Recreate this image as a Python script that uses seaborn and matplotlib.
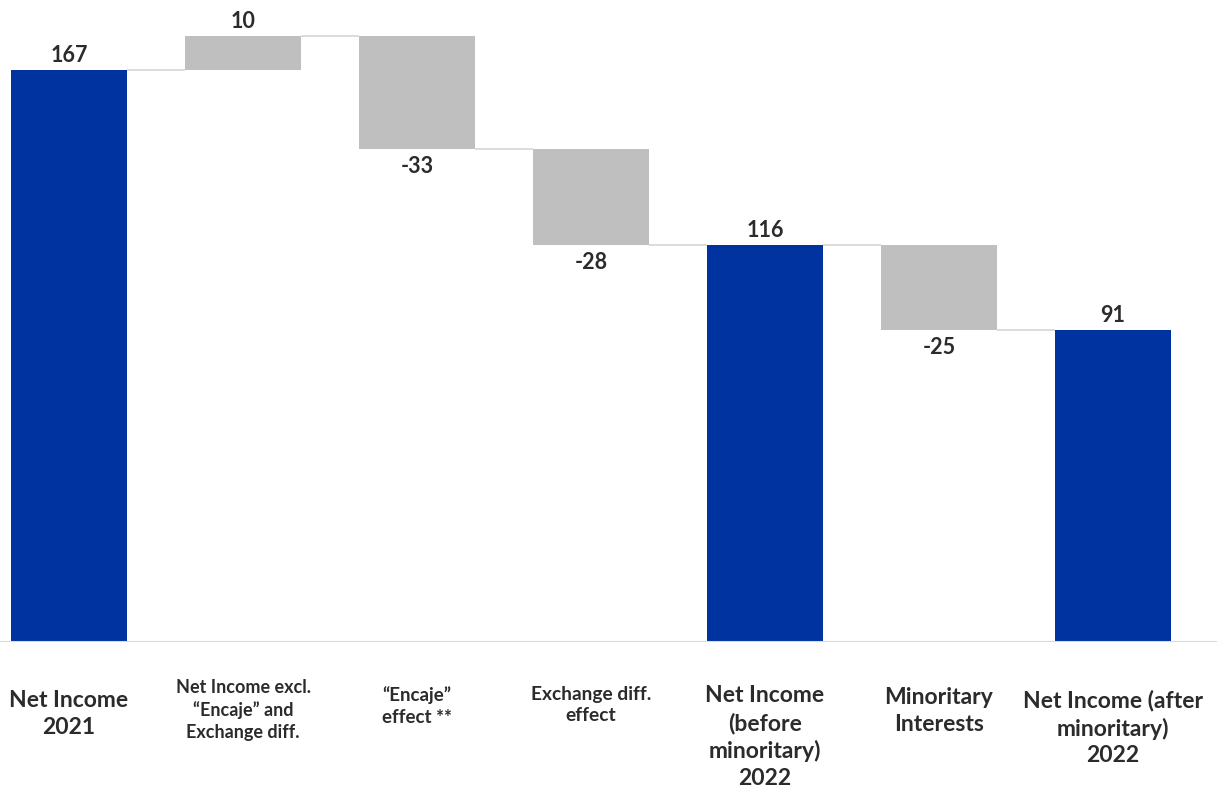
import matplotlib
matplotlib.use("Agg")
import matplotlib.pyplot as plt
import seaborn as sns

# Waterfall: net income bridge 2021 -> 2022
categories = [
    "Net Income\n2021",
    "Net Income excl.\n“Encaje” and\nExchange diff.",
    "“Encaje”\neffect **",
    "Exchange diff.\neffect",
    "Net Income\n(before\nminoritary)\n2022",
    "Minoritary\nInterests",
    "Net Income (after\nminoritary)\n2022",
]
values = [167, 10, -33, -28, 116, -25, 91]
kinds = ["total", "delta", "delta", "delta", "total", "delta", "total"]

BLUE = "#0033A0"
GREY = "#BFBFBF"
LINE = "#D9D9D9"
TEXT = "#2B2B2B"

sns.set_style("white")
plt.rcParams["font.family"] = ["Lato", "DejaVu Sans"]

# floating-bar extents
lows, highs = [], []
level = 0
for v, k in zip(values, kinds):
    if k == "total":
        lo, hi = 0, v
        level = v
    else:
        lo, hi = min(level, level + v), max(level, level + v)
        level += v
    lows.append(lo)
    highs.append(hi)

fig = plt.figure(figsize=(12.17, 7.89), dpi=100)
ax = fig.add_axes([0, 147 / 789, 1, 642 / 789])

bar_w = 0.667
tot_idx = [i for i, k in enumerate(kinds) if k == "total"]
dlt_idx = [i for i, k in enumerate(kinds) if k == "delta"]

sns.barplot(x=[categories[i] for i in tot_idx], y=[highs[i] for i in tot_idx],
            order=categories, color=BLUE, saturation=1, width=bar_w,
            linewidth=0, ax=ax, zorder=2)
sns.barplot(x=[categories[i] for i in dlt_idx],
            y=[highs[i] - lows[i] for i in dlt_idx],
            bottom=[lows[i] for i in dlt_idx],
            order=categories, color=GREY, saturation=1, width=bar_w,
            linewidth=0, ax=ax, zorder=2)

# connectors between consecutive bars
for i in range(len(values) - 1):
    lvl = highs[i] if (kinds[i] == "total" or values[i] > 0) else lows[i]
    ax.plot([i + bar_w / 2, i + 1 - bar_w / 2], [lvl, lvl],
            color=LINE, lw=1.3, zorder=1, solid_capstyle="butt")

ax.axhline(0, color=LINE, lw=1.5, zorder=3)

# value labels
for i, (v, k) in enumerate(zip(values, kinds)):
    if k == "total" or v > 0:
        ax.annotate(f"{v}", (i, highs[i]), xytext=(0, 10.5), textcoords="offset points",
                    ha="center", va="center", fontsize=15.5, fontweight="bold", color=TEXT)
    else:
        ax.annotate(f"{v}", (i, lows[i]), xytext=(0, -12.5), textcoords="offset points",
                    ha="center", va="center", fontsize=15.5, fontweight="bold", color=TEXT)

# category labels below the baseline
label_sizes = [16.5, 13, 13.5, 13.8, 16.5, 16.5, 16.5]
label_centers_px = [714, 710, 706, 705, 737, 711, 728]
trans = ax.get_xaxis_transform()
for i, (lab, fs, ypx) in enumerate(zip(categories, label_sizes, label_centers_px)):
    ax.text(i, (642 - ypx) / 642, lab, transform=trans, ha="center", va="center",
            fontsize=fs, fontweight="bold", color=TEXT, linespacing=1.33,
            clip_on=False)

ax.set_xlim(-69 / 174, (1217 - 69) / 174)
ax.set_ylim(0, 642 / ((642 - 70) / 167))
ax.set_xticks([])
ax.set_yticks([])
ax.set_xlabel("")
ax.set_ylabel("")
for s in ax.spines.values():
    s.set_visible(False)

fig.savefig("out.png", dpi=100)
